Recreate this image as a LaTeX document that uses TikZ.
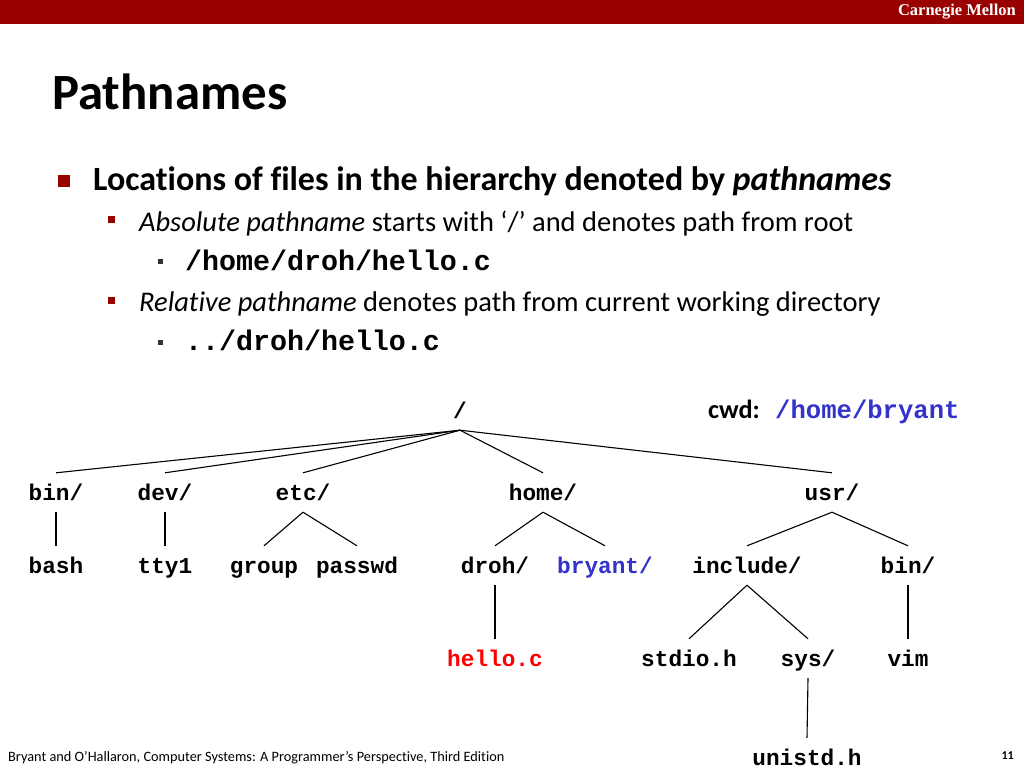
\documentclass[tikz,border=0pt]{standalone}
\usepackage{fontspec}
\setmainfont{Carlito}[Ligatures=NoCommon]
\newfontfamily\codefont{Liberation Mono}
\newfontfamily\cmufont{Liberation Serif}
\usepackage{tikz}

\definecolor{cmured}{HTML}{990000}
\definecolor{cwdblue}{HTML}{3333CC}
\definecolor{hellored}{HTML}{FF0000}

\newcommand{\treefont}{\codefont\bfseries\fontsize{22.75}{26}\selectfont}
\newcommand{\bigcode}{\codefont\bfseries\fontsize{28.3}{32}\selectfont}

\begin{document}
\begin{tikzpicture}[x=1pt, y=-1pt]
        \useasboundingbox (0,0) rectangle (1024,768);
        % header bar
        \fill[cmured] (0,0) rectangle (1024,24);
        \node [anchor=east, inner sep=0, text=white, font=\cmufont\bfseries\fontsize{16.5}{18}\selectfont] (cmu) at (1016,12) {Carnegie Mellon};
        \node [anchor=base west, inner sep=0, font=\bfseries\fontsize{50.8}{56}\selectfont] (title) at (52,109) {Pathnames};
        % bullets
        \fill[cmured] (58,175) rectangle (70,187);
        \fill[cmured] (108,216) rectangle (115,223);
        \fill[cmured] (108,297) rectangle (115,304);
        \fill[black!80] (158,259) rectangle (163,264);
        \fill[black!80] (158,340) rectangle (163,345);
        \begin{scope}[every node/.style={anchor=base west, inner sep=0}]
                \node [font=\bfseries\fontsize{34}{38}\selectfont] (loc) at (93,190) {Locations of files in the hierarchy denoted by \textit{pathnames}};
                \node [font=\fontsize{28.5}{32}\selectfont] (abs) at (139,231) {\textit{Absolute pathname} starts with ‘/’ and denotes path from root};
                \node [font=\bigcode] (abspath) at (185,270) {/home/droh/hello.c};
                \node [font=\fontsize{28.5}{32}\selectfont] (rel) at (139,311) {\textit{Relative pathname} denotes path from current working directory};
                \node [font=\bigcode] (relpath) at (185,350) {../droh/hello.c};
                \node [font=\bfseries\fontsize{26.3}{30}\selectfont] (cwd) at (708,418) {cwd:};
                \node [font=\codefont\bfseries\fontsize{25.6}{30}\selectfont, text=cwdblue] (cwdpath) at (775,418) {/home/bryant};
                \node [font=\fontsize{14.3}{17}\selectfont] (foot) at (8,761) {Bryant and O’Hallaron, Computer Systems: A Programmer’s Perspective, Third Edition};
                \node [anchor=base east, font=\bfseries\fontsize{12}{14}\selectfont] (page) at (1014,759) {11};
        \end{scope}
        % directory tree
        \begin{scope}[every node/.style={anchor=base, inner sep=0, text height=27pt, text depth=12pt, font=\treefont}]
                \node (root) at (460,418) {/};
                \node (bin) at (56,500) {bin/};
                \node (dev) at (165,500) {dev/};
                \node (etc) at (303,500) {etc/};
                \node (home) at (543,500) {home/};
                \node (usr) at (832,500) {usr/};
                \node (bash) at (56,573) {bash};
                \node (tty) at (165,573) {tty1};
                \node (group) at (264,573) {group};
                \node (passwd) at (357,573) {passwd};
                \node (droh) at (495,573) {droh/};
                \node [text=cwdblue] (bryant) at (605,573) {bryant/};
                \node (include) at (747,573) {include/};
                \node (usrbin) at (908,573) {bin/};
                \node [text=hellored] (hello) at (495,666) {hello.c};
                \node (stdio) at (689,666) {stdio.h};
                \node (sys) at (808,666) {sys/};
                \node (vim) at (908,666) {vim};
                \node (unistd) at (807,765) {unistd.h};
        \end{scope}
        \begin{scope}[every path/.style={line width=1.1pt}]
                \path (root.south) edge (bin.north);
                \path (root.south) edge (dev.north);
                \path (root.south) edge (etc.north);
                \path (root.south) edge (home.north);
                \path (root.south) edge (usr.north);
                \path (bin.south) edge (bash.north);
                \path (dev.south) edge (tty.north);
                \path (etc.south) edge (group.north);
                \path (etc.south) edge (passwd.north);
                \path (home.south) edge (droh.north);
                \path (home.south) edge (bryant.north);
                \path (usr.south) edge (include.north);
                \path (usr.south) edge (usrbin.north);
                \path (droh.south) edge (hello.north);
                \path (include.south) edge (stdio.north);
                \path (include.south) edge (sys.north);
                \path (usrbin.south) edge (vim.north);
                \path (sys.south) edge (unistd.north);
        \end{scope}
\end{tikzpicture}
\end{document}
